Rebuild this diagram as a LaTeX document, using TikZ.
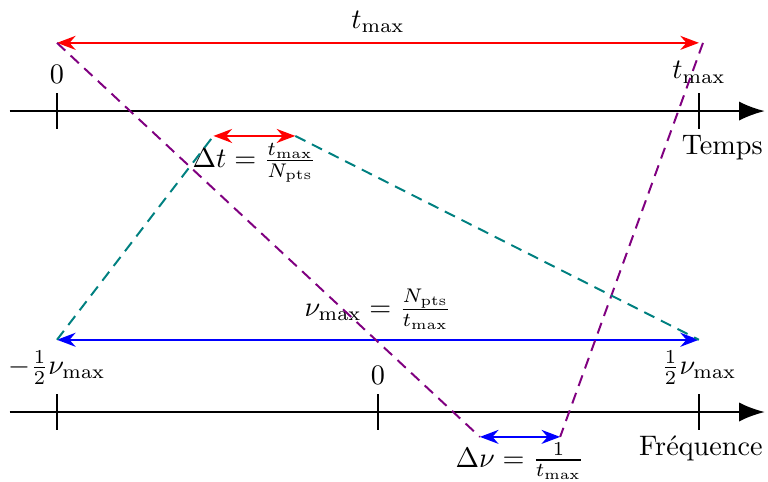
\documentclass[tikz,border=0pt]{standalone}
\usepackage{amsmath}
\usetikzlibrary{arrows.meta, calc, positioning}

\begin{document}
\begin{tikzpicture}[>=Stealth,
    axe/.style={thick, -{Latex[length=3.2mm, width=2.4mm]}},
    graduation/.style={semithick},
    intervalle/.style={thick, <->},
    lien/.style={dash pattern=on 4pt off 2.6pt, line width=0.7pt}]
    % définition des distances de base
    \def\tmax{8}
    \def\tick{0.22}
    \useasboundingbox (-0.71,-0.872) rectangle (8.86,5.134);

    % --- axe du temps ---
    \begin{scope}[yshift=3.75cm]
      \coordinate (tdeb) at (-0.59,0);
      \coordinate (tfin) at (8.82,0);
      \draw[axe] (tdeb) -- (tfin);
      \draw[graduation] (0,-\tick) -- (0,\tick) node[above] (lt0) {$0$};
      \draw[graduation] (\tmax,-\tick) -- (\tmax,\tick) node[above] (ltmax) {$t_{\max}$};
      \node[below left, inner sep=2pt] (temps) at (8.87,-\tick) {Temps};
    \end{scope}

    % --- axe des fréquences ---
    \begin{scope}
      \coordinate (fdeb) at (-0.59,0);
      \coordinate (ffin) at (8.82,0);
      \draw[axe] (fdeb) -- (ffin);
      \draw[graduation] (0,-\tick) -- (0,\tick) node[above] (lfmin) {$-\frac{1}{2}\nu_{\max}$};
      \draw[graduation] (0.5*\tmax,-\tick) -- (0.5*\tmax,\tick) node[above] (lf0) {$0$};
      \draw[graduation] (\tmax,-\tick) -- (\tmax,\tick) node[above] (lfmax) {$\frac{1}{2}\nu_{\max}$};
      \node[below left, inner sep=2pt] (freq) at (8.87,-\tick) {Fréquence};
    \end{scope}

    % --- durée totale et pas de temps ---
    \coordinate (A) at (0,4.6);
    \coordinate (B) at (\tmax,4.6);
    \draw[intervalle, red] (A) -- node[above, black] (ltot) {$t_{\max}$} (B);
    \coordinate (dtg) at (1.95,3.44);
    \coordinate (dtd) at (2.97,3.44);
    \draw[intervalle, red] (dtg) -- node[below=-1pt, black] (ldt) {$\Delta t = \frac{t_{\max}}{N_{\text{pts}}}$} (dtd);

    % --- bande de fréquence et pas en fréquence ---
    \coordinate (C) at (0,0.9);
    \coordinate (D) at (\tmax,0.9);
    \draw[intervalle, blue] (C) -- node[above, black] (lnu) {$\nu_{\max} = \frac{N_{\text{pts}}}{t_{\max}}$} (D);
    \coordinate (dng) at (5.27,-0.31);
    \coordinate (dnd) at (6.27,-0.31);
    \draw[intervalle, blue] (dng) -- node[below=-1.5pt, black] (ldn) {$\Delta\nu = \frac{1}{t_{\max}}$} (dnd);

    % --- correspondances ---
    \draw[lien, violet] (A) -- (dng);
    \draw[lien, violet] ($(B)+(0.05,0)$) -- (dnd);
    \draw[lien, teal] (C) -- (dtg);
    \draw[lien, teal] (dtd) -- (D);
  \end{tikzpicture}
\end{document}
